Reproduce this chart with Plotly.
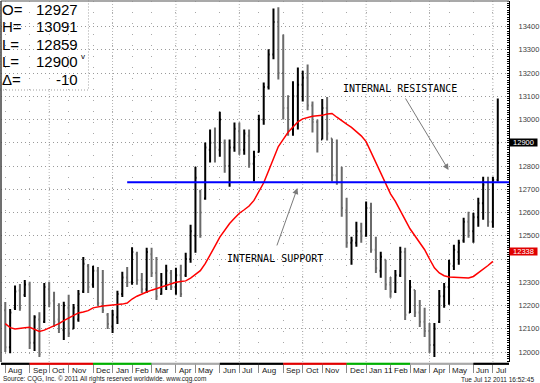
import plotly.graph_objects as go
import pandas as pd

# ---------------- data (weekly bars) ----------------
start_date = "2009-08-03"

highs = [12215, 12185, 12286, 12293, 12310, 12302, 12158, 12171, 12297, 12302,
         12259, 12210, 12216, 12246, 12207, 12267, 12409, 12379, 12371, 12366,
         12353, 12168, 12181, 12263, 12345, 12366, 12451, 12431, 12340, 12448,
         12448, 12409, 12340, 12375, 12353, 12362, 12375, 12427, 12547, 12797,
         12698, 12901, 12957, 12966, 13034, 12914, 12914, 12987, 12987, 12957,
         12957, 12866, 13021, 13159, 13302, 13478, 13483, 13366, 13105, 13165,
         13224, 13210, 13237, 13078, 13000, 13088, 13097, 12918, 12914, 12797,
         12664, 12496, 12560, 12556, 12647, 12642, 12496, 12431, 12397, 12323,
         12353, 12453, 12448, 12310, 12267, 12224, 12190, 12125, 12125, 12267,
         12297, 12397, 12461, 12483, 12578, 12603, 12599, 12664, 12754, 12754,
         12754, 13091]

lows = [12000, 11995, 12181, 12177, 12237, 12013, 12004, 11978, 12125, 12194,
        12108, 12082, 12052, 12065, 12099, 12130, 12254, 12254, 12276, 12198,
        12168, 12099, 12082, 12121, 12237, 12280, 12289, 12289, 12254, 12254,
        12323, 12224, 12246, 12267, 12267, 12246, 12237, 12323, 12384, 12427,
        12491, 12655, 12815, 12815, 12840, 12771, 12711, 12862, 12849, 12849,
        12793, 12733, 12858, 12978, 13129, 13259, 13172, 13000, 12930, 12930,
        12957, 13078, 13040, 12944, 12858, 12914, 12910, 12733, 12720, 12582,
        12448, 12375, 12453, 12470, 12496, 12427, 12340, 12319, 12267, 12233,
        12254, 12323, 12138, 12168, 12151, 12108, 12065, 11996, 11978, 12125,
        12190, 12203, 12353, 12375, 12470, 12491, 12470, 12539, 12569, 12539,
        12534, 12733]

opens = [12180, 12020, 12190, 12265, 12245, 12290, 12040, 12140, 12130, 12270,
         12220, 12140, 12095, 12190, 12100, 12140, 12260, 12370, 12290, 12350,
         12210, 12160, 12110, 12150, 12250, 12320, 12300, 12420, 12310, 12270,
         12420, 12340, 12250, 12290, 12340, 12280, 12330, 12330, 12400, 12500,
         12690, 12660, 12870, 12900, 12870, 12900, 12800, 12880, 12950, 12870,
         12930, 12810, 12860, 13000, 13140, 13280, 13420, 13200, 13050, 12960,
         13100, 13150, 13180, 13060, 12990, 12914, 13050, 12918, 12760, 12730,
         12610, 12470, 12470, 12520, 12500, 12620, 12440, 12350, 12397, 12290,
         12260, 12330, 12430, 12170, 12267, 12170, 12130, 12090, 12030, 12130,
         12240, 12280, 12370, 12430, 12480, 12560, 12520, 12580, 12640, 12730,
         12560, 12740]

closes = [12020, 12170, 12260, 12190, 12290, 12040, 12150, 11990, 12280, 12210,
          12130, 12100, 12200, 12080, 12190, 12250, 12380, 12280, 12350, 12210,
          12180, 12120, 12160, 12250, 12320, 12300, 12430, 12310, 12270, 12430,
          12340, 12240, 12300, 12350, 12280, 12330, 12250, 12400, 12520, 12750,
          12600, 12880, 12900, 12880, 13000, 12800, 12880, 12960, 12870, 12940,
          12810, 12840, 13000, 13140, 13280, 13420, 13200, 13050, 12960, 13100,
          13150, 13180, 13060, 12990, 12900, 13050, 12940, 12760, 12730, 12620,
          12470, 12480, 12520, 12500, 12620, 12440, 12360, 12410, 12290, 12260,
          12330, 12430, 12160, 12280, 12170, 12130, 12090, 12030, 12100, 12240,
          12280, 12380, 12440, 12470, 12560, 12520, 12580, 12640, 12720, 12560,
          12740, 12900]

moving_average = [12122, 12105, 12099, 12100, 12104, 12106, 12096, 12088, 12094, 12103,
                  12110, 12122, 12135, 12146, 12158, 12168, 12172, 12178, 12190, 12195,
                  12198, 12200, 12201, 12203, 12206, 12211, 12228, 12240, 12250, 12258,
                  12266, 12273, 12280, 12287, 12294, 12300, 12303, 12306, 12318, 12335,
                  12350, 12380, 12415, 12455, 12494, 12525, 12553, 12575, 12597, 12612,
                  12628, 12652, 12690, 12728, 12780, 12835, 12884, 12915, 12945, 12968,
                  12990, 13003, 13010, 13014, 13016, 13018, 13024, 13026, 13010, 12993,
                  12980, 12966, 12950, 12930, 12905, 12860, 12810, 12770, 12725, 12680,
                  12648, 12610, 12568, 12530, 12500, 12470, 12440, 12400, 12362, 12340,
                  12328, 12323, 12321, 12320, 12318, 12318, 12325, 12340, 12355, 12372,
                  12390]

month_labels = ["Aug", "Sep", "Oct", "Nov", "Dec", "Jan", "Feb", "Mar", "Apr", "May",
                "Jun", "Jul", "Aug", "Sep", "Oct", "Nov", "Dec", "Jan 11", "Feb", "Mar",
                "Apr", "May", "Jun", "Jul"]
price_ticks = [12000, 12100, 12200, 12300, 12400, 12500, 12600, 12700,
               12800, 12900, 13000, 13100, 13200, 13300, 13400]

level_price = 12730
level_start_bar = 25

readout_labels = ["O=", "H=", "L=", "L=", "\u0394="]
readout_values = ["12927", "13091", "12859", "12900", "-10"]
last_price_tag = "12900"
last_price = 12900
ma_tag = "12338"
ma_tag_pos = 12434   # where the tag sits on the axis in the picture

source_text = "Source: CQG, Inc. \u00a9 2011 All rights reserved worldwide. www.cqg.com"
stamp_text = "Tue Jul 12 2011 16:52:45"

# ---------------- derived ----------------
n = len(highs)
dates = pd.date_range(start_date, periods=n, freq="7D")
bars = list(range(n))
month_starts = [i for i in range(n) if i == 0 or dates[i].month != dates[i - 1].month]
month_of = [dates[i].month for i in month_starts]

W, H = 540, 383
ML, MR, MT, MB = 1, 28, 1, 21
PW, PH = W - ML - MR, H - MT - MB
XR = [-0.877, 103.30]
YR = [11957, 13510]

NARROW = "Liberation Sans Narrow, Arial Narrow, Liberation Sans, Arial"

# tick labels hidden behind the price tags
tag_positions = [last_price, ma_tag_pos]
tick_text = ["" if any(abs(v - t) < 45 for t in tag_positions) else str(v) for v in price_ticks]

fig = go.Figure()

fig.add_trace(go.Ohlc(
    x=bars, open=opens, high=highs, low=lows, close=closes,
    increasing_line_color="#000000", decreasing_line_color="#6a6a6a",
    line_width=2, tickwidth=0.25, hoverinfo="skip", showlegend=False))

fig.add_trace(go.Scatter(
    x=bars[:len(moving_average)], y=moving_average, mode="lines",
    line=dict(color="#ff0000", width=1.5), hoverinfo="skip", showlegend=False))

shapes = []
# quarter vertical dotted lines
for i, m in zip(month_starts, month_of):
    if m in (1, 4, 7, 10):
        shapes.append(dict(type="line", xref="x", yref="paper", x0=i, x1=i, y0=0, y1=1,
                           line=dict(color="#b4b4b4", width=1, dash="1px,2px"), layer="below"))

# season colour band under the axis
def season_color(m):
    if m in (6, 7, 8):
        return "#000000"
    if m in (9, 10, 11):
        return "#e00000"
    if m in (12, 1, 2):
        return "#00b000"
    return "#a8a8a8"

for k, (i, m) in enumerate(zip(month_starts, month_of)):
    x0 = XR[0] if k == 0 else i
    x1 = month_starts[k + 1] if k + 1 < len(month_starts) else XR[1]
    shapes.append(dict(type="line", xref="x", yref="paper", x0=x0, x1=x1,
                       y0=-1.8 / PH, y1=-1.8 / PH,
                       line=dict(color=season_color(m), width=2.2), layer="above"))

# horizontal level
shapes.append(dict(type="line", xref="x", yref="y", x0=level_start_bar, x1=XR[1],
                   y0=level_price, y1=level_price,
                   line=dict(color="#0000ff", width=2), layer="above"))

# frame lines
shapes.append(dict(type="line", xref="paper", yref="paper", x0=0, x1=1, y0=1, y1=1,
                   line=dict(color="#8c8c8c", width=1.5), layer="above"))
shapes.append(dict(type="line", xref="paper", yref="paper", x0=0, x1=0, y0=0, y1=1,
                   line=dict(color="#404040", width=1.5), layer="above"))

# readout box
shapes.append(dict(type="rect", xref="paper", yref="paper",
                   x0=-1 / PW, x1=88 / PW, y0=1 - 89 / PH, y1=1.01,
                   fillcolor="white", line=dict(color="#a0a0a0", width=1, dash="1px,2px"),
                   layer="between"))

ann = []
# month labels
for i, lab in zip(month_starts, month_labels):
    ann.append(dict(x=i, y=0, xref="x", yref="paper", text=lab, showarrow=False,
                    xanchor="left", yanchor="top", xshift=1, yshift=-2,
                    font=dict(family=NARROW, size=8, color="#202020")))

ann.append(dict(x=0, y=0, xref="paper", yref="paper", text=source_text, showarrow=False,
                xanchor="left", yanchor="middle", xshift=0, yshift=-17,
                font=dict(family=NARROW, size=6.5, color="#202020")))
ann.append(dict(x=1, y=0, xref="paper", yref="paper", text=stamp_text, showarrow=False,
                xanchor="right", yanchor="middle", xshift=27, yshift=-17,
                font=dict(family=NARROW, size=6.5, color="#202020")))

# readout
line_centres = [9, 26.5, 44, 61, 79]
for lab, val, yc in zip(readout_labels, readout_values, line_centres):
    ann.append(dict(x=0, y=1, xref="paper", yref="paper", text=lab, showarrow=False,
                    xanchor="left", yanchor="middle", xshift=-1, yshift=-(yc - MT),
                    font=dict(family="Liberation Sans, Arial", size=15, color="black")))
    ann.append(dict(x=0, y=1, xref="paper", yref="paper", text=val, showarrow=False,
                    xanchor="right", yanchor="middle", xshift=79, yshift=-(yc - MT),
                    font=dict(family="Liberation Sans, Arial", size=15, color="black")))
ann.append(dict(x=0, y=1, xref="paper", yref="paper", text="v", showarrow=False,
                xanchor="left", yanchor="middle", xshift=78, yshift=-(56 - MT),
                font=dict(family="Liberation Sans, Arial", size=8, color="black")))

# price tags on the right axis
ann.append(dict(x=1, y=last_price, xref="paper", yref="y", text=last_price_tag,
                showarrow=False, xanchor="left", yanchor="middle", xshift=0,
                bgcolor="#000000", width=27, height=7, borderpad=0,
                font=dict(family=NARROW, size=7.5, color="white")))
ann.append(dict(x=1, y=ma_tag_pos, xref="paper", yref="y", text=ma_tag,
                showarrow=False, xanchor="left", yanchor="middle", xshift=0,
                bgcolor="#e00000", width=27, height=7, borderpad=0,
                font=dict(family=NARROW, size=7.5, color="white")))

# text notes with arrows
TXT = dict(family="DejaVu Sans Mono, Liberation Mono, monospace", size=10, color="black")
ann.append(dict(x=68.8, y=13135, xref="x", yref="y", text="INTERNAL RESISTANCE",
                showarrow=False, xanchor="left", yanchor="middle", font=TXT))
ann.append(dict(x=45.0, y=12404, xref="x", yref="y", text="INTERNAL SUPPORT",
                showarrow=False, xanchor="left", yanchor="middle", font=TXT))
ann.append(dict(x=90.9, y=12783, ax=81.9, ay=13097, xref="x", yref="y", axref="x", ayref="y",
                text="", showarrow=True, arrowhead=2, arrowsize=1.2, arrowwidth=1,
                arrowcolor="#7a7a7a"))
ann.append(dict(x=59.9, y=12705, ax=55.6, ay=12452, xref="x", yref="y", axref="x", ayref="y",
                text="", showarrow=True, arrowhead=2, arrowsize=1.2, arrowwidth=1,
                arrowcolor="#7a7a7a"))

fig.update_layout(
    width=W, height=H,
    margin=dict(l=ML, r=MR, t=MT, b=MB, pad=0),
    paper_bgcolor="white", plot_bgcolor="white",
    showlegend=False,
    shapes=shapes, annotations=ann,
    xaxis=dict(range=XR, tickvals=month_starts, showticklabels=False,
               ticks="outside", ticklen=10, tickcolor="#8a8a8a", tickwidth=1,
               showgrid=True, gridcolor="#a8a8a8", gridwidth=1, griddash="1px,10px",
               zeroline=False, showline=False, rangeslider=dict(visible=False),
               fixedrange=True),
    yaxis=dict(range=YR, side="right", tickvals=price_ticks,
               ticktext=tick_text,
               tickfont=dict(family=NARROW, size=7.5, color="#404040"),
               ticks="", ticklabelstandoff=7,
               showgrid=True, gridcolor="#9a9a9a", gridwidth=1, griddash="1px,3px",
               minor=dict(ticks="inside", dtick=10, ticklen=2, tickcolor="#000000",
                          tickwidth=1, showgrid=False),
               showline=True, linecolor="#000000", linewidth=1,
               zeroline=False, fixedrange=True),
)

fig.write_html("out.html")
